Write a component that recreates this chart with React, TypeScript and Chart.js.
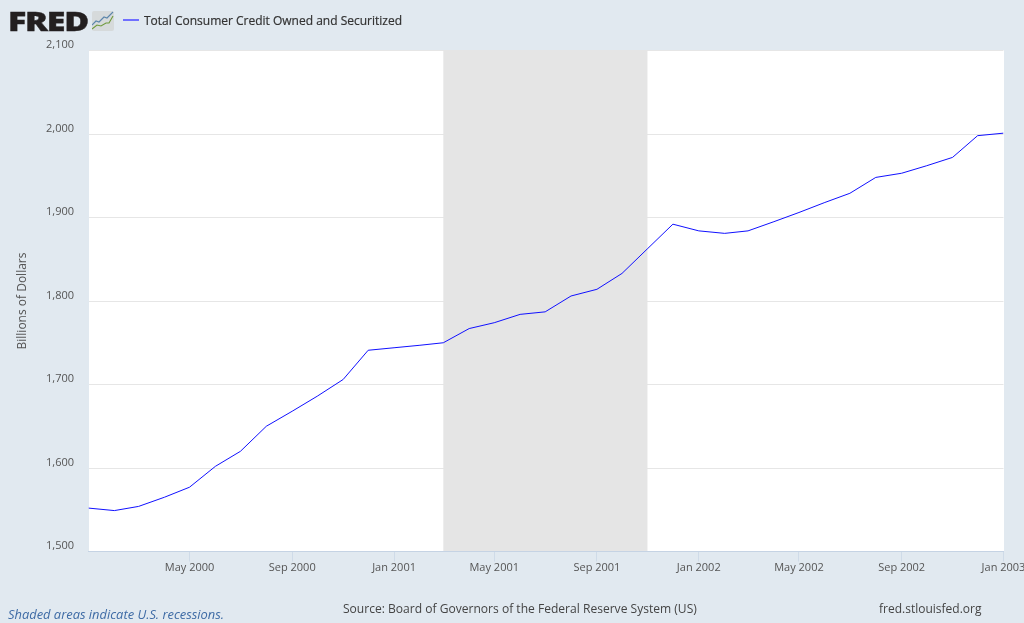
import React, { useEffect, useRef } from "react";
import { Chart, registerables } from "chart.js";

Chart.register(...registerables);

const months: string[] = [
  "2000-01","2000-02","2000-03","2000-04","2000-05","2000-06","2000-07","2000-08","2000-09","2000-10","2000-11","2000-12",
  "2001-01","2001-02","2001-03","2001-04","2001-05","2001-06","2001-07","2001-08","2001-09","2001-10","2001-11","2001-12",
  "2002-01","2002-02","2002-03","2002-04","2002-05","2002-06","2002-07","2002-08","2002-09","2002-10","2002-11","2002-12",
  "2003-01",
];
const credit: number[] = [
  1552,1549,1554,1565,1577,1602,1620,1650,1668,1686,1706,1741,
  1744,1747,1750,1767,1774,1784,1787,1806,1814,1833,1863,1892,
  1884,1881,1884,1895,1906,1918,1929,1948,1953,1962,1972,1998,
  2001,
];
const xTickMonths: string[] = ["2000-05","2000-09","2001-01","2001-05","2001-09","2002-01","2002-05","2002-09","2003-01"];
const yTicks: number[] = [1500,1600,1700,1800,1900,2000,2100];
const recession: string[] = ["2001-03","2001-11"];
const seriesName = "Total Consumer Credit Owned and Securitized";
const axisTitle = "Billions of Dollars";
const MONTH_NAMES = ["Jan","Feb","Mar","Apr","May","Jun","Jul","Aug","Sep","Oct","Nov","Dec"];

const toTime = (m: string) => {
  const [y, mo] = m.split("-").map(Number);
  return Date.UTC(y, mo - 1, 1);
};
const fmtTime = (t: number) => {
  const d = new Date(t);
  return `${MONTH_NAMES[d.getUTCMonth()]} ${d.getUTCFullYear()}`;
};

const FONT = "'Open Sans', sans-serif";
const BG = "#e1e9f0";

const plotBg = {
  id: "plotBg",
  beforeDraw(chart: any) {
    const { ctx, chartArea: a } = chart;
    const l = Math.ceil(a.left), t = 50, r = Math.ceil(a.right), b = Math.floor(a.bottom);
    ctx.save();
    ctx.fillStyle = "#ffffff";
    ctx.fillRect(l, t, r - l, b - t);
    ctx.restore();
  },
};
const band = {
  id: "band",
  beforeDatasetsDraw(chart: any) {
    const { ctx, chartArea: a, scales } = chart;
    const x0 = scales.x.getPixelForValue(toTime(recession[0]));
    const x1 = scales.x.getPixelForValue(toTime(recession[1]));
    const t = 50, b = Math.floor(a.bottom);
    ctx.save();
    ctx.fillStyle = "#e5e5e5";
    ctx.fillRect(x0, t, x1 - x0 - 0.4, b - t);
    ctx.restore();
  },
};

const abs = (s: React.CSSProperties): React.CSSProperties => ({ position: "absolute", whiteSpace: "nowrap", fontFamily: FONT, ...s });

export default function App() {
  const ref = useRef<HTMLCanvasElement>(null);
  useEffect(() => {
    document.body.style.margin = "0";
    document.body.style.background = BG;
    const chart = new Chart(ref.current!, {
      type: "line",
      data: {
        datasets: [{
          label: seriesName,
          data: months.map((m, i) => ({ x: toTime(m), y: credit[i] })),
          borderColor: "#1010ff",
          borderWidth: 1,
          pointRadius: 0,
          tension: 0,
        }],
      },
      options: {
        animation: false,
        responsive: false,
        layout: { padding: { top: 50.5, right: 20.5, left: 0, bottom: 0 } },
        plugins: { legend: { display: false }, tooltip: { enabled: false } },
        scales: {
          x: {
            type: "linear",
            min: toTime(months[0]),
            max: toTime(months[months.length - 1]),
            afterBuildTicks(s: any) { s.ticks = xTickMonths.map((m) => ({ value: toTime(m) })); },
            afterFit(s: any) { s.height = 71.5; s.paddingLeft = 0; s.paddingRight = 0; },
            grid: { drawOnChartArea: false, drawTicks: true, tickLength: 10, color: "#cfdbe8" },
            border: { color: "#c5d3e4", width: 1 },
            ticks: {
              autoSkip: false, maxRotation: 0, minRotation: 0, padding: 0,
              color: "#555555", font: { family: FONT, size: 11 },
              callback: (v: any) => fmtTime(Number(v)),
            },
          },
          y: {
            min: 1500,
            max: 2100,
            afterBuildTicks(s: any) { s.ticks = yTicks.map((value) => ({ value })); },
            afterFit(s: any) { s.width = 88.5; s.paddingTop = 0; s.paddingBottom = 0; },
            grid: { drawTicks: false, color: "#e6e6e6" },
            border: { display: false },
            title: {
              display: true, text: axisTitle, color: "#555555",
              font: { family: FONT, size: 12 }, padding: { top: 15, bottom: 0 },
            },
            ticks: {
              padding: 14.5, labelOffset: -5.5, color: "#555555",
              font: { family: FONT, size: 11 },
              callback: (v: any) => Number(v).toLocaleString("en-US"),
            },
          },
        },
      },
      plugins: [plotBg, band],
    } as any);
    return () => chart.destroy();
  }, []);

  return (
    <div style={{ position: "relative", width: 1024, height: 623, overflow: "hidden", background: BG }}>
      <canvas ref={ref} width={1024} height={623} style={{ display: "block", width: 1024, height: 623 }} />
      <div style={abs({ left: 8, top: 2.5, fontSize: 27, lineHeight: "36px", fontWeight: 800, color: "#231f20", letterSpacing: -1, WebkitTextStroke: "0.4px #231f20", transform: "scaleX(1.26)", transformOrigin: "left center" })}>FRED</div>
      <svg style={{ position: "absolute", left: 92, top: 11 }} width="22" height="20" viewBox="0 0 22 20">
        <rect x="0" y="0" width="22" height="20" rx="2" fill="#d6dadb" />
        <polyline points="0,14 4,10 7,11 12,6 15,7 21,1" fill="none" stroke="#5c86ab" strokeWidth="1.1" />
        <polyline points="0,18 5,14 9,15 14,12 17,12 21,5" fill="none" stroke="#6f9a3c" strokeWidth="1.1" />
      </svg>
      <div style={{ position: "absolute", left: 123, top: 19, width: 16, height: 2, background: "#7070ff" }} />
      <div style={abs({ left: 144, top: 12, fontSize: 12, lineHeight: "18px", fontWeight: 500, color: "#333333", WebkitTextStroke: "0.2px #333333" })}>{seriesName}</div>
      <div style={abs({ left: 8, top: 605, fontSize: 12.9, lineHeight: "18px", fontStyle: "italic", color: "#3e6ba5" })}>Shaded areas indicate U.S. recessions.</div>
      <div style={abs({ left: 343, top: 600, fontSize: 12.07, lineHeight: "18px", color: "#444444" })}>Source: Board of Governors of the Federal Reserve System (US)</div>
      <div style={abs({ left: 879, top: 600, fontSize: 12, lineHeight: "18px", color: "#444444" })}>fred.stlouisfed.org</div>
    </div>
  );
}
